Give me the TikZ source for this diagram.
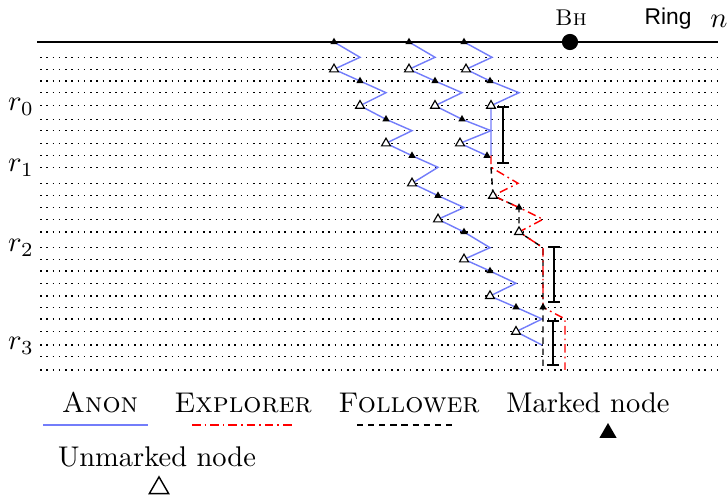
\documentclass[tikz,border=0pt]{standalone}
\usepackage{fontspec}
\newfontfamily\ringfont{Liberation Sans}
\usetikzlibrary{shapes.geometric,arrows.meta}
\definecolor{anonblue}{RGB}{115,125,250}
\tikzset{
	row/.style={line width=0.4pt, dash pattern=on 0.55pt off 1.65pt},
	anon/.style={anonblue, line width=0.5pt},
	explorer/.style={red, line width=0.5pt, dash pattern=on 3pt off 1.4pt on 0.6pt off 1.4pt},
	follower/.style={black, line width=0.5pt, dash pattern=on 2.2pt off 1.7pt},
	marked/.style={regular polygon, regular polygon sides=3, fill=black, inner sep=0pt, minimum size=3pt},
	unmarked/.style={regular polygon, regular polygon sides=3, draw=black, fill=white, line width=0.4pt, inner sep=0pt, minimum size=3.6pt},
	interval/.style={line width=0.6pt, arrows={Bar[width=4pt]-Bar[width=4pt]}},
	legend/.style={anchor=base}
}
\begin{document}
\begin{tikzpicture}[x=0.351pt, y=-0.351pt]
	\useasboundingbox (0,0) rectangle (728,502);
	% ring and rounds
	\draw [line width=0.6pt] (37,42) -- (718,42);
	\foreach \y in {57.3,69.3,81,92.7,105.7,119.3,130.7,143.3,155.7,167.3,183.3,195.7,207.5,219.3,232,247.7,259.3,271,283.3,296,307.3,319,331.7,345,356.7,370}
		\draw [row] (40,\y) -- (722,\y);
	\node at (21,107) {$r_0$};
	\node at (21,168) {$r_1$};
	\node at (21,248) {$r_2$};
	\node at (21,346) {$r_3$};
	\draw [fill] (570,42) circle [radius=7.5];
	\node at (571,18) {\footnotesize\textsc{Bh}};
	\node at (668,19) {\ringfont\fontsize{8}{10}\selectfont Ring};
	\node at (719,21) {$n$};
	% anon agents
	\draw [anon] (334,42) -- (360,57.3) -- (334,69.3) -- (360,81) -- (386,92.7) -- (360,105.7) -- (386,119.3) -- (412,130.7) -- (386,143.3) -- (412,155.7) -- (438,167.3) -- (412,183.3) -- (438,195.7) -- (464,207.5) -- (438,219.3) -- (464,232) -- (490,247.7) -- (464,259.3) -- (490,271) -- (516,283.3) -- (490,296) -- (516,307.3) -- (542,319) -- (516,331.7) -- (542,345);
	\draw [anon] (409,42) -- (435,57.3) -- (409,69.3) -- (435,81) -- (462,92.7) -- (435,105.7) -- (462,119.3) -- (491,130.7) -- (460,143.3) -- (487,155.7);
	\draw [anon] (464,42) -- (492,57.3) -- (466,69.3) -- (490,81) -- (519,92.7) -- (491,105.7) -- (491,155.7);
	% explorer and follower
	\draw [follower] (491,167.3) -- (493,195.7) -- (519,207.5) -- (519,232) -- (543,247.7) -- (543,370);
	\draw [explorer] (491,155.7) -- (491,167.3) -- (518,183.3) -- (493,195.7) -- (519,207.5) -- (543,219.3) -- (519,232) -- (543,247.7) -- (543,307.3) -- (565,319) -- (565,370);
	\draw [interval] (503,106) -- (503,164);
	\draw [interval] (554,246) -- (554,303);
	\draw [interval] (553,320) -- (553,366);
	% nodes
	\foreach \x/\y in {334/42, 360/81, 386/119.3, 412/155.7, 438/195.7, 464/232, 490/271, 516/307.3, 409/42, 435/81, 462/119.3, 487/155.7, 464/42, 490/81, 519/207.5, 543/307.3}
		\node [marked] at (\x,\y) {};
	\foreach \x/\y in {334/69.3, 360/105.7, 386/143.3, 412/183.3, 438/219.3, 464/259.3, 490/296, 516/331.7, 409/69.3, 435/105.7, 460/143.3, 466/69.3, 491/105.7, 493/195.7, 519/232}
		\node [unmarked] at (\x,\y) {};
	% legend
	\node [legend] at (100,412) {\textsc{Anon}};
	\draw [anon] (43,425) -- (148,425);
	\node [legend] at (243,412) {\textsc{Explorer}};
	\draw [explorer] (192,425) -- (294,425);
	\node [legend] at (409,412) {\textsc{Follower}};
	\draw [follower] (357,425) -- (456,425);
	\node [legend] at (588,412) {Marked node};
	\node [marked, minimum size=7pt] at (608,433) {};
	\node [legend] at (157,466) {Unmarked node};
	\node [unmarked, minimum size=7.8pt, line width=0.5pt] at (159,488) {};
\end{tikzpicture}
\end{document}
